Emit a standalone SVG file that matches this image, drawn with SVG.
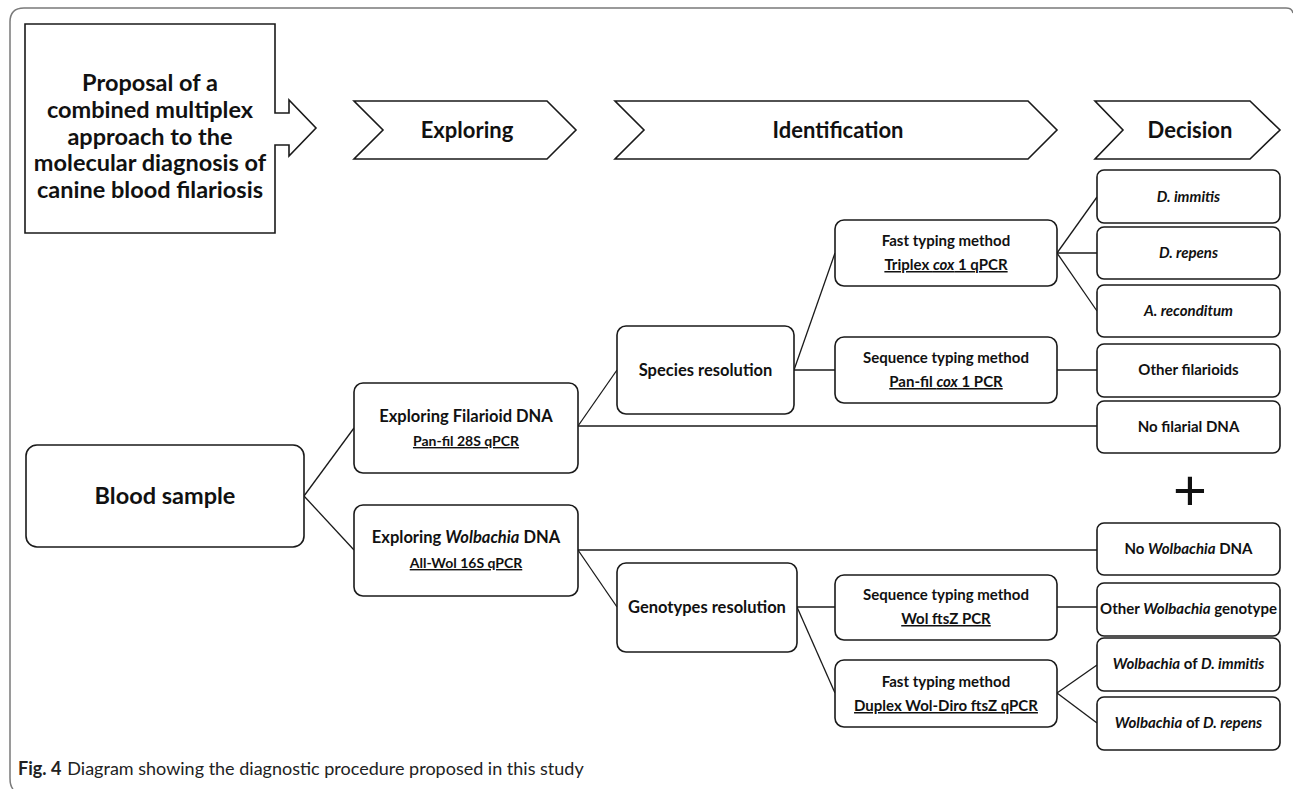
<svg xmlns="http://www.w3.org/2000/svg" width="1293" height="789" viewBox="0 0 1293 789">
<style>
.box{fill:#fff;stroke:#1a1a1a;stroke-width:1.6}
.ln{stroke:#1a1a1a;stroke-width:1.3;fill:none}
text{font-family:Lato,'Open Sans',sans-serif;font-weight:bold;fill:#111;text-anchor:middle}
.t23{font-size:23.5px}
.t22{font-size:22px}
.t17{font-size:16.5px}
.t16{font-size:16.5px}
.t15{font-size:15px}
.t14{font-size:14px}
.u{text-decoration:underline}
.i{font-style:italic}
</style>
<rect x="0" y="0" width="1293" height="789" fill="#fff"/>
<path d="M13,789 Q10,786 10,778 L10,22 Q10,8 24,8 L1286,8 Q1292,8 1293,13" fill="none" stroke="#7a7a7a" stroke-width="1.5"/>

<g id="connectors">
<path class="ln" d="M304,496 L354,428"/>
<path class="ln" d="M304,496 L354,550"/>
<path class="ln" d="M578,426 L617,370"/>
<path class="ln" d="M578,426 L1097,426"/>
<path class="ln" d="M794,370 L835,253"/>
<path class="ln" d="M794,370 L835,370"/>
<path class="ln" d="M1057,253 L1097,197"/>
<path class="ln" d="M1057,253 L1097,253"/>
<path class="ln" d="M1057,253 L1097,311"/>
<path class="ln" d="M1057,370 L1097,370"/>
<path class="ln" d="M578,550 L1097,550"/>
<path class="ln" d="M578,550 L617,607"/>
<path class="ln" d="M797,607 L835,607"/>
<path class="ln" d="M797,607 L835,693"/>
<path class="ln" d="M1057,607 L1097,607"/>
<path class="ln" d="M1057,693 L1097,665"/>
<path class="ln" d="M1057,693 L1097,723"/>
</g>

<g id="proposal">
<path class="box" d="M25,24 H275 V113 H289 V100 L316,128 L289,156 V145 H275 V233 H25 Z"/>
<text class="t23" x="150" y="91">Proposal of a</text>
<text class="t23" x="150" y="118">combined multiplex</text>
<text class="t23" x="150" y="145">approach to the</text>
<text class="t23" x="150" y="171">molecular diagnosis of</text>
<text class="t23" x="150" y="198">canine blood filariosis</text>
</g>

<g id="stage-exploring">
<path class="box" d="M354,101 H547 L576,130 L547,159 H354 L383,130 Z"/>
<text class="t22" x="467" y="138">Exploring</text>
</g>
<g id="stage-identification">
<path class="box" d="M615,101 H1028 L1057,130 L1028,159 H615 L644,130 Z"/>
<text class="t22" x="838" y="138">Identification</text>
</g>
<g id="stage-decision">
<path class="box" d="M1095,101 H1250 L1280,130 L1250,159 H1095 L1123,130 Z"/>
<text class="t22" x="1190" y="138">Decision</text>
</g>

<g id="blood">
<rect class="box" x="26" y="445" width="278" height="102" rx="11"/>
<text class="t23" x="165" y="504">Blood sample</text>
</g>

<g id="exp-filarioid">
<rect class="box" x="354" y="383" width="224" height="90" rx="9"/>
<text class="t17" x="466" y="422">Exploring Filarioid DNA</text>
<text class="t14 u" x="466" y="446">Pan-fil 28S qPCR</text>
</g>

<g id="exp-wolbachia">
<rect class="box" x="354" y="505" width="224" height="91" rx="9"/>
<text class="t17" x="466" y="543">Exploring <tspan class="i">Wolbachia</tspan> DNA</text>
<text class="t14 u" x="466" y="568">All-Wol 16S qPCR</text>
</g>

<g id="species">
<rect class="box" x="617" y="326" width="177" height="88" rx="9"/>
<text class="t16" x="705.5" y="376">Species resolution</text>
</g>

<g id="genotypes">
<rect class="box" x="617" y="563" width="180" height="89" rx="9"/>
<text class="t16" x="707" y="613">Genotypes resolution</text>
</g>

<g id="triplex">
<rect class="box" x="835" y="220" width="222" height="66" rx="9"/>
<text class="t15" x="946" y="246">Fast typing method</text>
<text class="t15 u" x="946" y="270">Triplex <tspan class="i">cox</tspan> 1 qPCR</text>
</g>

<g id="panfil">
<rect class="box" x="835" y="337" width="222" height="66" rx="9"/>
<text class="t15" x="946" y="363">Sequence typing method</text>
<text class="t15 u" x="946" y="387">Pan-fil <tspan class="i">cox</tspan> 1 PCR</text>
</g>

<g id="wolftsz">
<rect class="box" x="835" y="575" width="222" height="65" rx="9"/>
<text class="t15" x="946" y="600">Sequence typing method</text>
<text class="t15 u" x="946" y="624">Wol ftsZ PCR</text>
</g>

<g id="duplex">
<rect class="box" x="835" y="660" width="222" height="67" rx="9"/>
<text class="t15" x="946" y="687">Fast typing method</text>
<text class="t15 u" x="946" y="711">Duplex Wol-Diro ftsZ qPCR</text>
</g>

<g id="d-immitis">
<rect class="box" x="1097" y="170" width="183" height="53" rx="7"/>
<text class="t15 i" x="1188.5" y="202">D. immitis</text>
</g>
<g id="d-repens">
<rect class="box" x="1097" y="227" width="183" height="52" rx="7"/>
<text class="t15 i" x="1188.5" y="258">D. repens</text>
</g>
<g id="a-reconditum">
<rect class="box" x="1097" y="285" width="183" height="52" rx="7"/>
<text class="t15 i" x="1188.5" y="316">A. reconditum</text>
</g>
<g id="other-filarioids">
<rect class="box" x="1097" y="344" width="183" height="53" rx="7"/>
<text class="t15" x="1188.5" y="375">Other filarioids</text>
</g>
<g id="no-filarial">
<rect class="box" x="1097" y="401" width="183" height="52" rx="7"/>
<text class="t15" x="1188.5" y="432">No filarial DNA</text>
</g>
<g id="plus">
<text x="1190" y="510" style="font-family:'Liberation Sans',sans-serif;font-size:58px;font-weight:normal">+</text>
</g>
<g id="no-wolbachia">
<rect class="box" x="1097" y="523" width="183" height="52" rx="7"/>
<text class="t15" x="1188.5" y="554">No <tspan class="i">Wolbachia</tspan> DNA</text>
</g>
<g id="other-wolbachia">
<rect class="box" x="1097" y="583" width="183" height="53" rx="7"/>
<text class="t15" x="1188.5" y="614">Other <tspan class="i">Wolbachia</tspan> genotype</text>
</g>
<g id="wol-d-immitis">
<rect class="box" x="1097" y="638" width="183" height="53" rx="7"/>
<text class="t15" x="1188.5" y="669"><tspan class="i">Wolbachia</tspan> of <tspan class="i">D. immitis</tspan></text>
</g>
<g id="wol-d-repens">
<rect class="box" x="1097" y="697" width="183" height="53" rx="7"/>
<text class="t15" x="1188.5" y="728"><tspan class="i">Wolbachia</tspan> of <tspan class="i">D. repens</tspan></text>
</g>

<g id="caption">
<text x="18" y="775" style="text-anchor:start;font-size:18px;font-weight:normal;fill:#222"><tspan style="font-weight:bold">Fig. 4</tspan><tspan dx="6">Diagram showing the diagnostic procedure proposed in this study</tspan></text>
</g>
</svg>
